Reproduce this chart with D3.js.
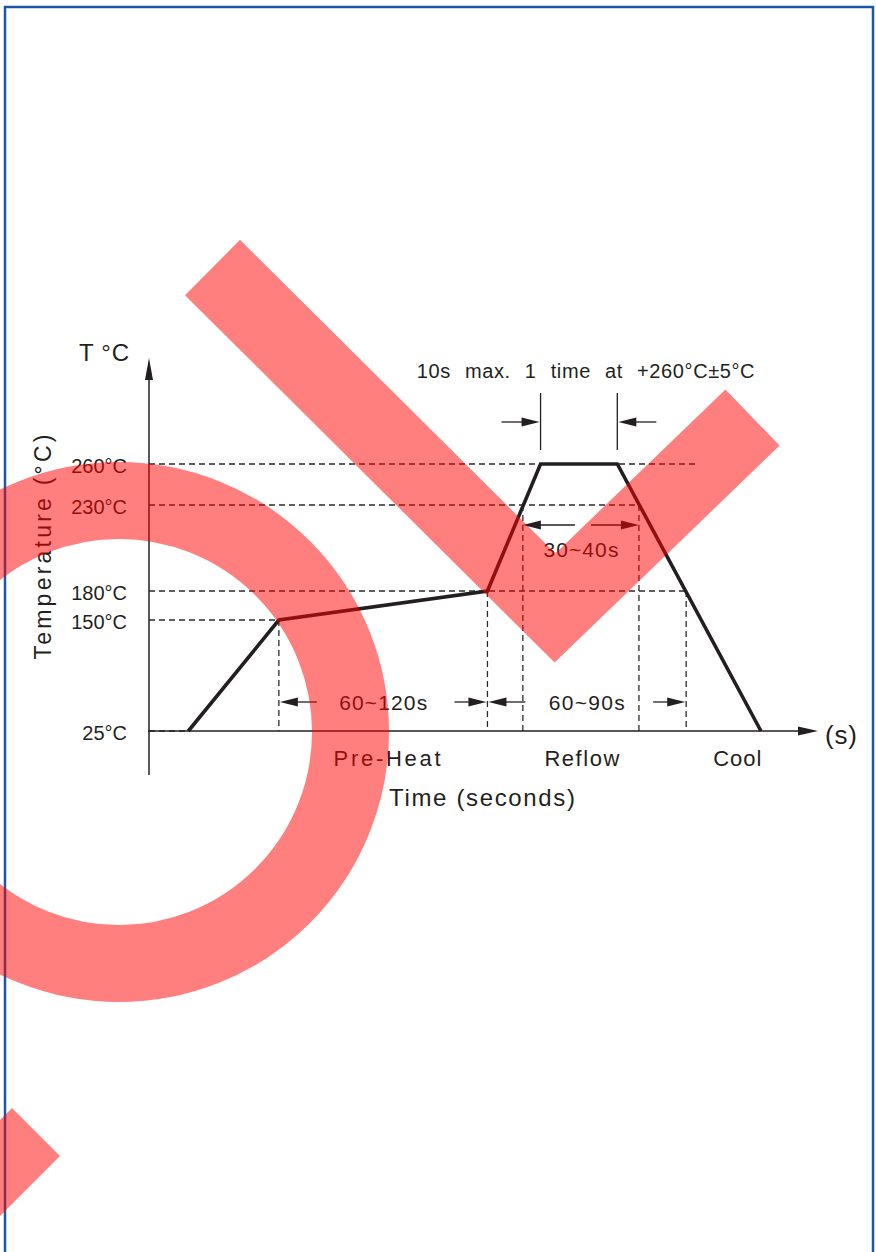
<!DOCTYPE html>
<html>
<head>
<meta charset="utf-8">
<script src="https://cdn.jsdelivr.net/npm/d3@7"></script>
<style>
  html, body { margin: 0; padding: 0; background: #fff; }
  svg { display: block; }
  text { font-family: "Liberation Sans", Arial, sans-serif; fill: #231f20; }
</style>
</head>
<body>
<div id="chart"></div>
<script>
// temperature levels on the y axis
var tempTicks = [25, 150, 180, 230, 260];
var tempTickLabels = ["25°C", "150°C", "180°C", "230°C", "260°C"];

// reflow profile (time in s, temperature in °C)
var profileTime = [20, 66, 172, 199, 238, 311];
var profileTemp = [25, 150, 180, 260, 260, 25];

// horizontal guides: level and the time where the dashed line stops
var guideLevels = [260, 230, 180, 150, 25];
var guideLevelEnd = [278, 249, 273, 66, 20];

// vertical guides: time and the level they drop from
var guideDropTime = [66, 172, 190, 249, 273];
var guideDropFrom = [150, 180, 230, 230, 180];

// dimension spans
var spanLabels = ["60~120s", "60~90s", "30~40s", "10s max. 1 time at +260°C±5°C"];
var spanStart = [66, 172, 190, 199];
var spanEnd = [172, 273, 249, 238];

// phase names under the time axis
var phaseLabels = ["Pre-Heat", "Reflow", "Cool"];
var phaseTime = [121, 220, 299];

var d3Dimension = { width: 876, height: 1252 };
var inkColor = "#231f20";

var svg = d3.select("#chart").append("svg")
    .attr("width", d3Dimension.width)
    .attr("height", d3Dimension.height);

var x = d3.scaleLinear().domain([0, 340]).range([149, 818]);
// the drawing is schematic, so the temperature axis is piecewise
var y = d3.scaleLinear().domain(tempTicks).range([731, 620, 591, 505, 464]);

// page frame
svg.append("rect")
    .attr("x", 5).attr("y", 7)
    .attr("width", 868).attr("height", 1270)
    .attr("fill", "none")
    .attr("stroke", "#1c57a5")
    .attr("stroke-width", 2.5);

var chart = svg.append("g");

function arrowHead(g, tipX, tipY, dirX, dirY, len, half) {
    // triangle pointing along (dirX, dirY)
    var bx = tipX - dirX * len, by = tipY - dirY * len;
    var px = -dirY * half, py = dirX * half;
    g.append("path")
        .attr("d", "M" + tipX + "," + tipY + "L" + (bx + px) + "," + (by + py) + "L" + (bx - px) + "," + (by - py) + "Z")
        .attr("fill", inkColor);
}

function arrow(g, fromX, toX, rowY) {
    var dir = toX > fromX ? 1 : -1;
    g.append("line")
        .attr("x1", fromX).attr("x2", toX - dir * 10)
        .attr("y1", rowY).attr("y2", rowY)
        .attr("stroke", inkColor).attr("stroke-width", 1.3);
    arrowHead(g, toX, rowY, dir, 0, 18, 4.5);
}

// dashed guides
var guides = chart.append("g")
    .attr("stroke", "#2b2b2b")
    .attr("stroke-width", 1.3)
    .attr("stroke-dasharray", "6,4");

guides.selectAll("line.h")
    .data(guideLevels)
    .enter().append("line")
    .attr("class", "h")
    .attr("x1", x(0))
    .attr("x2", function(d, i) { return x(guideLevelEnd[i]); })
    .attr("y1", function(d) { return y(d); })
    .attr("y2", function(d) { return y(d); });

guides.selectAll("line.v")
    .data(guideDropTime)
    .enter().append("line")
    .attr("class", "v")
    .attr("x1", function(d) { return x(d); })
    .attr("x2", function(d) { return x(d); })
    .attr("y1", function(d, i) { return y(guideDropFrom[i]); })
    .attr("y2", y(25));

// axes
var yAxis = d3.axisLeft(y)
    .tickValues(tempTicks)
    .tickFormat(function(d, i) { return tempTickLabels[i]; })
    .tickSize(0)
    .tickPadding(22);

var yAxisG = chart.append("g")
    .attr("transform", "translate(" + x(0) + ",0)")
    .call(yAxis);
yAxisG.select(".domain").remove();
yAxisG.selectAll("text")
    .attr("font-family", "Liberation Sans, Arial, sans-serif")
    .attr("font-size", 20)
    .attr("fill", inkColor)
    .attr("dy", "0.4em");

chart.append("line")
    .attr("x1", x(0)).attr("x2", x(0))
    .attr("y1", y(25) + 44).attr("y2", 372)
    .attr("stroke", inkColor).attr("stroke-width", 1.5);
arrowHead(chart, x(0), 358, 0, -1, 22, 4);

chart.append("line")
    .attr("x1", x(0) - 1).attr("x2", x(340) - 10)
    .attr("y1", y(25)).attr("y2", y(25))
    .attr("stroke", inkColor).attr("stroke-width", 1.5);
arrowHead(chart, x(340), y(25), 1, 0, 20, 4.5);

// profile
var profile = profileTime.map(function(t, i) { return { t: t, temp: profileTemp[i] }; });
var line = d3.line()
    .x(function(d) { return x(d.t); })
    .y(function(d) { return y(d.temp); });

chart.append("path")
    .datum(profile)
    .attr("d", line)
    .attr("fill", "none")
    .attr("stroke", inkColor)
    .attr("stroke-width", 3.6)
    .attr("stroke-linejoin", "miter");

// dimension spans
var spans = spanLabels.map(function(label, i) {
    return { label: label, x0: x(spanStart[i]), x1: x(spanEnd[i]) };
});
var dims = chart.append("g");
var spanWidths = [88, 76, 75];

spans.forEach(function(s, i) {
    var mid = (s.x0 + s.x1) / 2;
    var rowY, textY, textX = mid;
    if (i < 2) {
        rowY = y(25) - 29;
        textY = rowY + 8;
        arrow(dims, s.x0 + 38, s.x0 + 1, rowY);
        arrow(dims, s.x1 - 33, s.x1 - 1, rowY);
    } else if (i === 2) {
        rowY = y(230) + 20;
        textY = rowY + 32;
        arrow(dims, mid - 6, s.x0, rowY);
        arrow(dims, mid + 10, s.x1, rowY);
    } else {
        rowY = y(260) - 42;
        textY = rowY - 44;
        textX = mid + 7;
        arrow(dims, s.x0 - 39, s.x0 - 1, rowY);
        arrow(dims, s.x1 + 39, s.x1 + 1, rowY);
        [s.x0, s.x1].forEach(function(ex) {
            dims.append("line")
                .attr("x1", ex).attr("x2", ex)
                .attr("y1", y(260) - 71).attr("y2", y(260) - 14)
                .attr("stroke", inkColor).attr("stroke-width", 1.3);
        });
    }
    var t = dims.append("text")
        .attr("x", textX).attr("y", textY)
        .attr("text-anchor", "middle")
        .text(s.label);
    if (i < 3) {
        t.attr("font-size", 21)
            .attr("textLength", spanWidths[i])
            .attr("lengthAdjust", "spacing");
    } else {
        t.attr("font-size", 20)
            .attr("word-spacing", 8)
            .attr("letter-spacing", 0.6);
    }
});

// phase names
var phaseWidths = [107, 75, 48];
chart.selectAll("text.phase")
    .data(phaseLabels)
    .enter().append("text")
    .attr("class", "phase")
    .attr("x", function(d, i) { return x(phaseTime[i]); })
    .attr("y", y(25) + 35)
    .attr("text-anchor", "middle")
    .attr("font-size", 22)
    .attr("textLength", function(d, i) { return phaseWidths[i]; })
    .attr("lengthAdjust", "spacing")
    .text(function(d) { return d; });

// axis titles
chart.append("text")
    .attr("x", 482).attr("y", y(25) + 75)
    .attr("text-anchor", "middle")
    .attr("font-size", 24)
    .attr("textLength", 186)
    .attr("lengthAdjust", "spacing")
    .text("Time (seconds)");

chart.append("text")
    .attr("x", 825).attr("y", y(25) + 13)
    .attr("font-size", 26)
    .attr("textLength", 32)
    .attr("lengthAdjust", "spacing")
    .text("(s)");

chart.append("text")
    .attr("x", 79).attr("y", 361)
    .attr("font-size", 24)
    .attr("textLength", 50)
    .attr("lengthAdjust", "spacing")
    .text("T °C");

chart.append("text")
    .attr("transform", "translate(51,547) rotate(-90)")
    .attr("text-anchor", "middle")
    .attr("font-size", 23)
    .attr("textLength", 225)
    .attr("lengthAdjust", "spacing")
    .text("Temperature (°C)");

// red watermark drawn over the page
var mark = svg.append("g").attr("opacity", 0.5);

mark.append("circle")
    .attr("cx", 119).attr("cy", 732).attr("r", 231.5)
    .attr("fill", "none")
    .attr("stroke", "#ff0000")
    .attr("stroke-width", 77);

mark.append("path")
    .attr("d", "M212.5,267.5L555,608L752.5,417.5")
    .attr("fill", "none")
    .attr("stroke", "#ff0000")
    .attr("stroke-width", 78)
    .attr("stroke-linejoin", "miter");

mark.append("path")
    .attr("d", "M-10,1130L12,1108L60,1156L-10,1226Z")
    .attr("fill", "#ff0000");
</script>
</body>
</html>
